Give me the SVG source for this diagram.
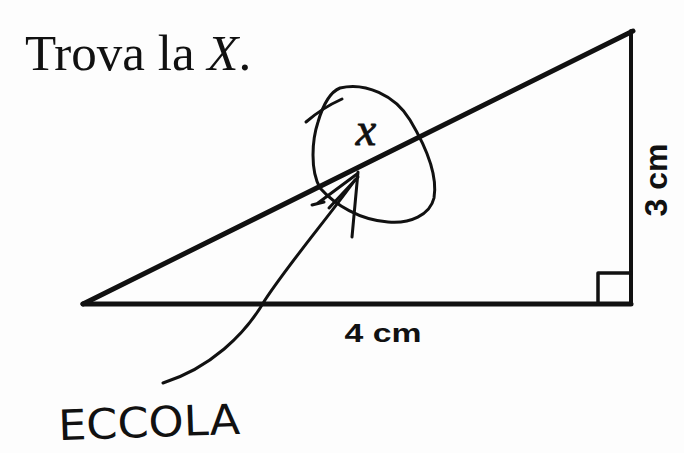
<svg xmlns="http://www.w3.org/2000/svg" width="684" height="453" viewBox="0 0 684 453">
<style>
.geo{fill:none;stroke:#111;stroke-linecap:round;stroke-linejoin:round}
.hand{fill:none;stroke:#111;stroke-width:3;stroke-linecap:round;stroke-linejoin:round}
.lbl{font-family:"Liberation Sans",Arial,sans-serif;font-weight:bold;fill:#111}
.serif{font-family:"Liberation Serif","Times New Roman",serif;fill:#111}
</style>
<rect width="684" height="453" fill="#fdfdfd"/>
<g id="title">
<text class="serif" x="25" y="70" font-size="51">Trova la <tspan font-style="italic">X</tspan>.</text>
</g>
<g id="triangle">
<line class="geo" x1="83" y1="304" x2="633" y2="31" stroke-width="5"/>
<line class="geo" x1="83" y1="304" x2="631" y2="304" stroke-width="5"/>
<line class="geo" x1="631" y1="31" x2="631" y2="304" stroke-width="4"/>
<polyline class="geo" points="598,304 598,273 631,273" stroke-width="3.5"/>
</g>
<g id="label-4cm">
<text class="lbl" x="383" y="342" font-size="26" text-anchor="middle" textLength="77" lengthAdjust="spacingAndGlyphs">4 cm</text>
</g>
<g id="label-3cm">
<text class="lbl" transform="translate(667,180) rotate(-90)" x="0" y="0" font-size="32" text-anchor="middle">3 cm</text>
</g>
<g id="x-mark">
<path class="hand" d="M340,88 C365,82 395,95 410,120 C425,145 438,175 434,198 C430,215 410,224 388,222 C360,220 335,205 320,188 C310,170 312,140 318,122 C323,105 330,92 340,88 Z"/>
<path class="hand" d="M306,122 Q322,108 342,99"/>
<text class="serif" x="366" y="145" font-size="46" font-style="italic" text-anchor="middle" stroke="#111" stroke-width="0.9">x</text>
</g>
<g id="connectors">
<path class="hand" d="M355,180 C330,215 290,262 265,300 C245,335 210,368 163,383"/>
<path class="hand" d="M358,172 L352,237"/>
<path class="hand" d="M357,174 L318,203"/>
<path class="hand" d="M358,177 L329,208"/>
<path class="hand" d="M312,205 L324,202"/>
</g>
<g id="eccola">
<text x="149" y="437" font-family="'DejaVu Sans',sans-serif" font-size="42" fill="#111" text-anchor="middle" textLength="182" lengthAdjust="spacingAndGlyphs" transform="rotate(-2 149 420)">ECCOLA</text>
</g>
</svg>
